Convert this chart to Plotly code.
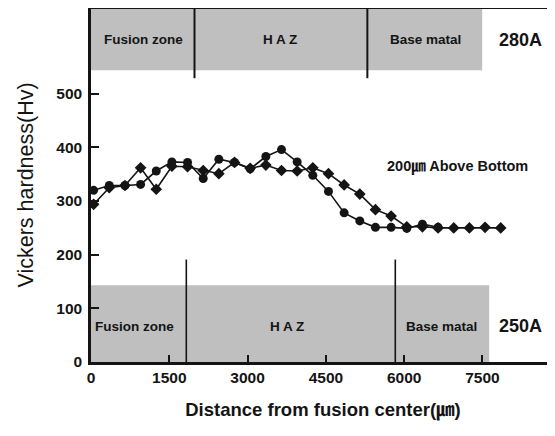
import plotly.graph_objects as go

# ---- data ----
x_a = [50, 350, 650, 950, 1250, 1550, 1850, 2150, 2450, 2750, 3050, 3350,
       3650, 3950, 4250, 4550, 4850, 5150, 5450, 5750, 6050, 6350, 6650]
hv_a = [320, 329, 329, 331, 356, 373, 372, 342, 378, 372, 360, 383,
        396, 373, 348, 318, 278, 263, 251, 251, 249, 257, 251]

x_b = [50, 350, 650, 950, 1250, 1550, 1850, 2150, 2450, 2750, 3050, 3350,
       3650, 3950, 4250, 4550, 4850, 5150, 5450, 5750, 6050, 6350, 6650,
       6950, 7250, 7550, 7850]
hv_b = [294, 325, 329, 362, 322, 365, 364, 357, 351, 372, 361, 367,
        357, 356, 362, 351, 330, 313, 284, 272, 252, 252, 250,
        250, 250, 251, 250]

x_ticks = [0, 1500, 3000, 4500, 6000, 7500]
y_ticks = [0, 100, 200, 300, 400, 500]

# zone bands (x extent, y extent) and boundaries
bot_band_x = [0, 7630]
bot_band_y = [0, 143]
bot_bounds = [1826, 5830]
bot_bound_top = 191
top_band_x = [0, 7495]
top_band_y = [544, 660]
top_bounds = [1983, 5295]
top_bound_bottom = 529

zone_names = ["Fusion zone", "H A Z", "Base matal"]
top_label_x = [1002, 3626, 6404]
bot_label_x = [830, 3754, 6724]
top_label_y = 601
bot_label_y = 67
current_labels = ["280A", "250A"]
current_x = 8224

X_RANGE = [0, 8890]
Y_RANGE = [0, 658]

ink = "#141414"
fig = go.Figure()

fig.add_trace(go.Scatter(x=x_a, y=hv_a, mode="lines+markers",
                         line=dict(color=ink, width=1.6),
                         marker=dict(symbol="circle", size=9, color=ink),
                         showlegend=False))
fig.add_trace(go.Scatter(x=x_b, y=hv_b, mode="lines+markers",
                         line=dict(color=ink, width=1.6),
                         marker=dict(symbol="diamond", size=9, color=ink),
                         showlegend=False))

gray = "#bfbfbf"
shapes = []
shapes.append(dict(type="rect", xref="x", yref="y", x0=bot_band_x[0], x1=bot_band_x[1],
                   y0=bot_band_y[0], y1=bot_band_y[1], fillcolor=gray, line=dict(width=0),
                   layer="below"))
shapes.append(dict(type="rect", xref="x", yref="y", x0=top_band_x[0], x1=top_band_x[1],
                   y0=top_band_y[0], y1=top_band_y[1], fillcolor=gray, line=dict(width=0),
                   layer="below"))
for bx in bot_bounds:
    shapes.append(dict(type="line", xref="x", yref="y", x0=bx, x1=bx, y0=0, y1=bot_bound_top,
                       line=dict(color=ink, width=1.6)))
for bx in top_bounds:
    shapes.append(dict(type="line", xref="x", yref="y", x0=bx, x1=bx, y0=top_bound_bottom,
                       y1=Y_RANGE[1], line=dict(color=ink, width=2)))

font_family = "Arial, Liberation Sans, Noto Sans CJK KR, sans-serif"
ann = []
for name, xx in zip(zone_names, top_label_x):
    ann.append(dict(x=xx, y=top_label_y, xref="x", yref="y", text="<b>%s</b>" % name,
                    showarrow=False, font=dict(size=13.5, color=ink, family=font_family)))
for name, xx in zip(zone_names, bot_label_x):
    ann.append(dict(x=xx, y=bot_label_y, xref="x", yref="y", text="<b>%s</b>" % name,
                    showarrow=False, font=dict(size=13.5, color=ink, family=font_family)))
ann.append(dict(x=current_x, y=top_label_y, xref="x", yref="y", text="<b>%s</b>" % current_labels[0],
                showarrow=False, font=dict(size=18, color=ink, family=font_family)))
ann.append(dict(x=current_x, y=bot_label_y, xref="x", yref="y", text="<b>%s</b>" % current_labels[1],
                showarrow=False, font=dict(size=18, color=ink, family=font_family)))
ann.append(dict(x=7017, y=364, xref="x", yref="y", text="<b>200㎛ Above Bottom</b>",
                showarrow=False, font=dict(size=14.5, color=ink, family=font_family)))
# y-axis title as a rotated annotation (plot area is 464 px wide)
ann.append(dict(x=-(91 - 25) / 464, y=0.5, xref="paper", yref="paper",
                text="Vickers hardness(Hv)", textangle=-90, showarrow=False,
                xanchor="center", yanchor="middle",
                font=dict(size=21.5, color=ink, family=font_family)))

# page body has an 8 px margin: the div is shifted by 8 px right and down
fig.update_layout(
    width=547, height=428,
    margin=dict(l=83, r=0, t=1, b=74),
    paper_bgcolor="white", plot_bgcolor="white",
    shapes=shapes, annotations=ann,
    font=dict(family=font_family, color=ink),
    xaxis=dict(range=X_RANGE, tickvals=x_ticks, automargin=False,
               ticktext=["<b>%d</b>" % v for v in x_ticks],
               ticks="inside", ticklen=7, tickwidth=2, tickcolor=ink,
               showline=True, linewidth=2.5, linecolor=ink, mirror=True,
               showgrid=False, zeroline=False,
               tickfont=dict(size=15.5, color=ink),
               title=dict(text="<b>Distance from fusion center(㎛)</b>",
                          font=dict(size=18.5, color=ink), standoff=18)),
    yaxis=dict(range=Y_RANGE, tickvals=y_ticks, automargin=False,
               ticktext=["<b>%d</b>" % v for v in y_ticks],
               ticks="inside", ticklen=8, tickwidth=2, tickcolor=ink,
               ticklabelstandoff=3,
               showline=True, linewidth=2.5, linecolor=ink,
               showgrid=False, zeroline=False,
               tickfont=dict(size=15.5, color=ink)),
)

fig.write_html("out.html")
